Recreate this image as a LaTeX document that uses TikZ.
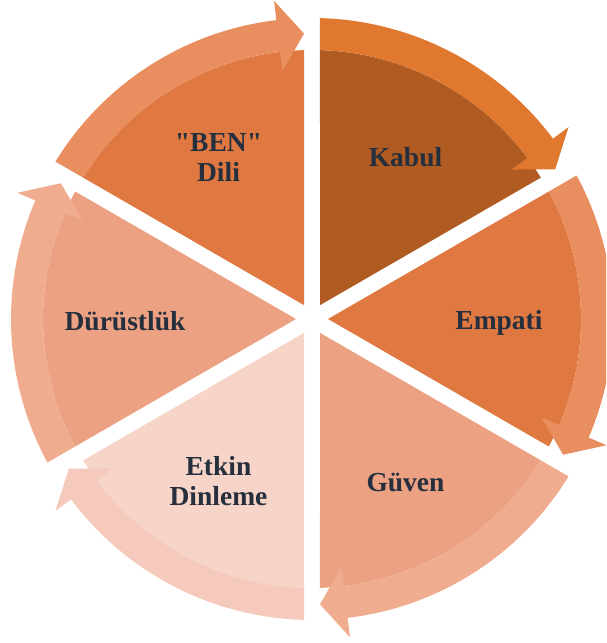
\documentclass[tikz,border=0pt]{standalone}
\usepackage{fontspec}
\setmainfont{Liberation Serif}[Ligatures=TeXOff]
\definecolor{kabS}{HTML}{AF5B22}
\definecolor{kabA}{HTML}{E07830}
\definecolor{empS}{HTML}{DF7841}
\definecolor{empA}{HTML}{E98E5F}
\definecolor{guvS}{HTML}{ECA182}
\definecolor{guvA}{HTML}{F0AC8E}
\definecolor{etkS}{HTML}{F6D4C7}
\definecolor{etkA}{HTML}{F5CABC}
\definecolor{txt}{HTML}{252F3E}
\tikzset{
  lbl/.style={text=txt, font=\bfseries\fontsize{27.5}{30}\selectfont, align=center, inner sep=0pt}
}
\begin{document}
\begin{tikzpicture}[x=1pt,y=1pt]
\useasboundingbox (0,0) rectangle (606,643);
\clip (0,0) rectangle (606,643);
\begin{scope}[shift={(312,324)}]
% sectors
\foreach \a/\sc in {90/kabS, 30/empS, -30/guvS, -90/etkS, -150/guvS, 150/empS}{
  \pgfmathsetmacro\e{\a-60}
  \pgfmathsetmacro\m{\a-30}
  \pgfmathsetmacro\sa{\a-1.704}
  \pgfmathsetmacro\ea{\e+1.704}
  \fill[\sc] (\m:16pt) -- (\sa:269pt) arc[start angle=\sa, end angle=\ea, radius=269pt] -- cycle;
}
% arrows
\foreach \a/\ac in {90/kabA, 30/empA, -30/guvA, -90/etkA, -150/guvA, 150/empA}{
  \pgfmathsetmacro\e{\a-60}
  \pgfmathsetmacro\tt{\e+1.606}
  \pgfmathsetmacro\tb{\e+1.606+5.2}
  \pgfmathsetmacro\si{\a-1.704}
  \pgfmathsetmacro\so{\a-1.523}
  \fill[\ac] (\si:269pt) -- (\so:301pt)
     arc[start angle=\so, end angle=\tb, radius=301pt]
     -- (\tb:320.5pt) -- (\tt:285.5pt) -- (\tb:249.5pt) -- (\tb:269pt)
     arc[start angle=\tb, end angle=\si, radius=269pt] -- cycle;
}
\node[lbl] (kabul) at (60:187pt) {Kabul};
\node[lbl, yshift=-4pt] (empati) at (0:187pt) {Empati};
\node[lbl, yshift=-2pt] (guven) at (-60:187pt) {Güven};
\node[lbl] (etkin) at (-120:187pt) {Etkin\\Dinleme};
\node[lbl, yshift=-2pt] (durust) at (180:187pt) {Dürüstlük};
\node[lbl] (ben) at (120:187pt) {"BEN"\\Dili};
\end{scope}
\end{tikzpicture}
\end{document}
